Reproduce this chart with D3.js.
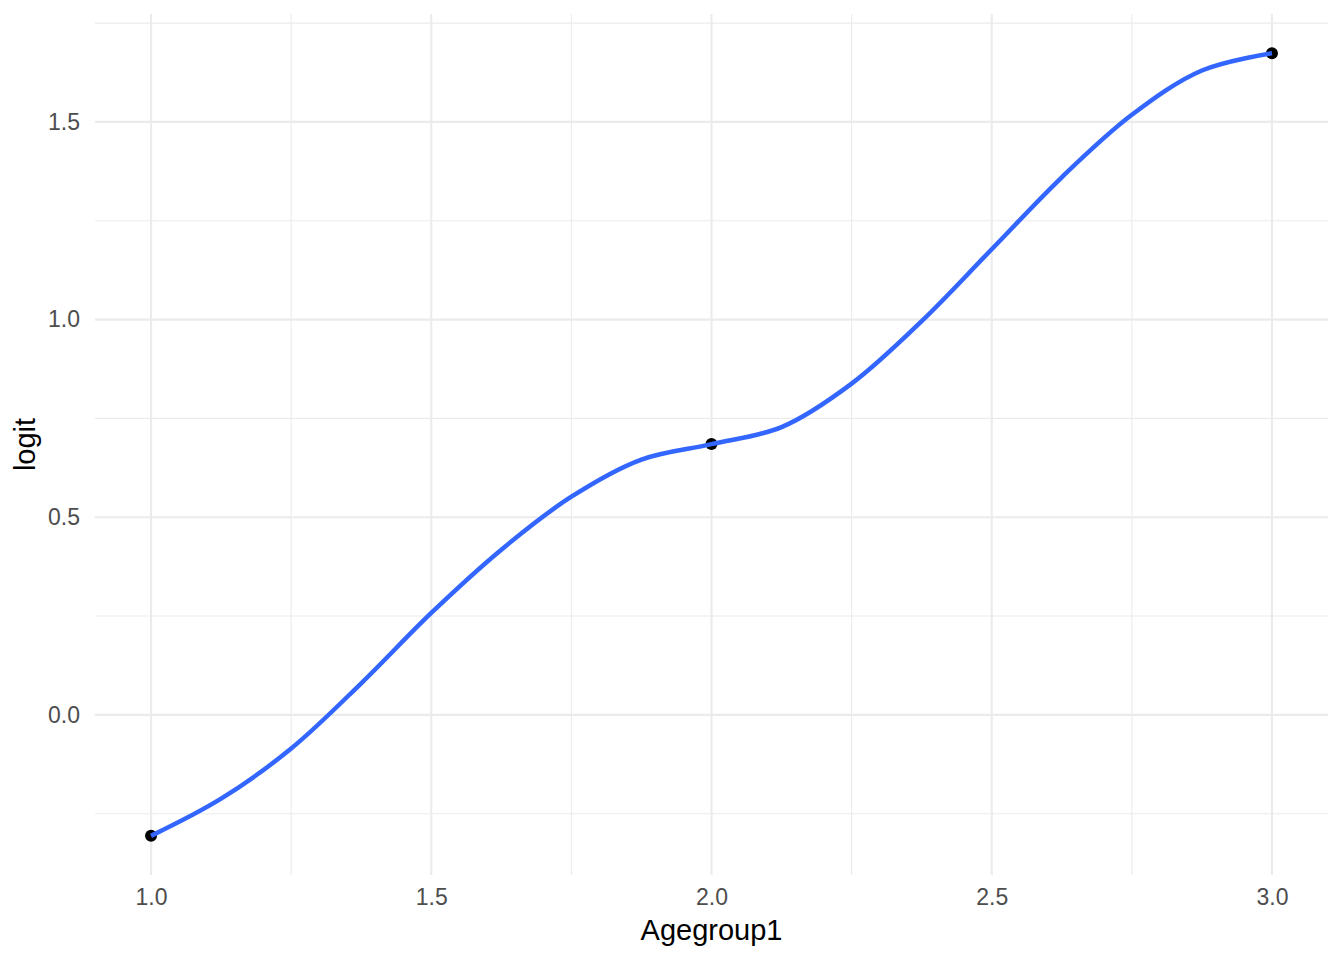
<!DOCTYPE html>
<html>
<head>
<meta charset="utf-8">
<script src="https://cdn.jsdelivr.net/npm/d3@7"></script>
<style>
  body { margin: 0; background: #fff; }
  text { font-family: "Liberation Sans", Arial, sans-serif; }
</style>
</head>
<body>
<div id="chart"></div>
<script>
// observed points
const ageGroups = [1, 2, 3];
const logitValues = [-0.306, 0.685, 1.674];

// smoothed curve
const smoothX = [1, 1.125, 1.25, 1.375, 1.5, 1.625, 1.75, 1.875, 2, 2.125, 2.25, 2.375, 2.5, 2.625, 2.75, 2.875, 3];
const smoothY = [-0.306, -0.212, -0.085, 0.08, 0.258, 0.418, 0.552, 0.646, 0.685, 0.728, 0.838, 0.996, 1.178, 1.36, 1.518, 1.63, 1.674];

const xMajor = [1, 1.5, 2, 2.5, 3];
const xMinor = [1.25, 1.75, 2.25, 2.75];
const yMajor = [0, 0.5, 1, 1.5];
const yMinor = [-0.25, 0.25, 0.75, 1.25, 1.75];

const W = 1344, H = 960;
const margin = {top: 14, right: 16, bottom: 85, left: 95};
const width = W - margin.left - margin.right;
const height = H - margin.top - margin.bottom;

const svg = d3.select("#chart")
    .append("svg")
    .attr("width", W)
    .attr("height", H);

const g = svg.append("g")
    .attr("transform", `translate(${margin.left},${margin.top})`);

// scales with ggplot's 5% expansion
const xPad = (d3.max(ageGroups) - d3.min(ageGroups)) * 0.05;
const x = d3.scaleLinear()
    .domain([d3.min(ageGroups) - xPad, d3.max(ageGroups) + xPad])
    .range([0, width]);

const yMin = d3.min(logitValues), yMax = d3.max(logitValues);
const yPad = (yMax - yMin) * 0.05;
const y = d3.scaleLinear()
    .domain([yMin - yPad, yMax + yPad])
    .range([height, 0]);

// minor grid
g.selectAll(".ygrid-minor").data(yMinor).enter().append("line")
    .attr("x1", 0).attr("x2", width)
    .attr("y1", d => y(d)).attr("y2", d => y(d))
    .attr("stroke", "#ebebeb").attr("stroke-width", 1.1);
g.selectAll(".xgrid-minor").data(xMinor).enter().append("line")
    .attr("y1", 0).attr("y2", height)
    .attr("x1", d => x(d)).attr("x2", d => x(d))
    .attr("stroke", "#ebebeb").attr("stroke-width", 1.1);

// major grid
g.selectAll(".ygrid").data(yMajor).enter().append("line")
    .attr("x1", 0).attr("x2", width)
    .attr("y1", d => y(d)).attr("y2", d => y(d))
    .attr("stroke", "#ebebeb").attr("stroke-width", 2.1);
g.selectAll(".xgrid").data(xMajor).enter().append("line")
    .attr("y1", 0).attr("y2", height)
    .attr("x1", d => x(d)).attr("x2", d => x(d))
    .attr("stroke", "#ebebeb").attr("stroke-width", 2.1);

// axes (text only, like theme_minimal)
const xAxis = g.append("g")
    .attr("transform", `translate(0,${height})`)
    .call(d3.axisBottom(x).tickValues(xMajor).tickFormat(d3.format(".1f")).tickSize(0).tickPadding(14));
xAxis.select(".domain").remove();
xAxis.selectAll("text")
    .style("font-size", "23px")
    .style("fill", "#4d4d4d");

const yAxis = g.append("g")
    .call(d3.axisLeft(y).tickValues(yMajor).tickFormat(d3.format(".1f")).tickSize(0).tickPadding(15));
yAxis.select(".domain").remove();
yAxis.selectAll("text")
    .style("font-size", "23px")
    .style("fill", "#4d4d4d");

// axis titles
svg.append("text")
    .attr("x", margin.left + width / 2)
    .attr("y", 940)
    .attr("text-anchor", "middle")
    .style("font-size", "29px")
    .style("fill", "#000")
    .text("Agegroup1");

svg.append("text")
    .attr("transform", `translate(35,${margin.top + height / 2}) rotate(-90)`)
    .attr("text-anchor", "middle")
    .style("font-size", "29px")
    .style("fill", "#000")
    .text("logit");

// points
g.selectAll(".pt")
    .data(ageGroups.map((a, i) => ({a, v: logitValues[i]})))
    .enter().append("circle")
    .attr("cx", d => x(d.a))
    .attr("cy", d => y(d.v))
    .attr("r", 6)
    .attr("fill", "#000");

// smooth line
const smoothData = smoothX.map((a, i) => ({a, v: smoothY[i]}));
g.append("path")
    .datum(smoothData)
    .attr("fill", "none")
    .attr("stroke", "#3366ff")
    .attr("stroke-width", 4.5)
    .attr("d", d3.line()
        .x(d => x(d.a))
        .y(d => y(d.v))
        .curve(d3.curveCatmullRom.alpha(0.5)));
</script>
</body>
</html>
